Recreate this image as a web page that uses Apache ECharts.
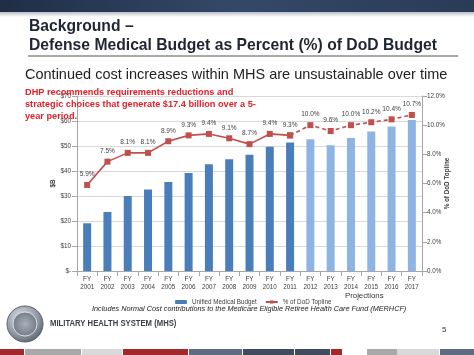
<!DOCTYPE html>
<html>
<head>
<meta charset="utf-8">
<script src="https://cdn.jsdelivr.net/npm/echarts@6/dist/echarts.min.js"></script>
<style>
html,body{margin:0;padding:0;background:#fff;}
#c{width:474px;height:355px;}
</style>
</head>
<body>
<div id="c"></div>
<script>
const categories = ['2001','2002','2003','2004','2005','2006','2007','2008','2009','2010','2011','2012','2013','2014','2015','2016','2017'];
const budget = [19.1, 23.6, 30.0, 32.6, 35.6, 39.2, 42.7, 44.7, 46.5, 49.7, 51.4, 52.7, 50.3, 53.2, 55.8, 57.8, 60.4];
const pctTopline = [5.9, 7.5, 8.1, 8.1, 8.9, 9.3, 9.4, 9.1, 8.7, 9.4, 9.3, 10.0, 9.6, 10.0, 10.2, 10.4, 10.7];
const lastActualIndex = 10; // FY2011
const leftTicks = [0, 10, 20, 30, 40, 50, 60, 70];
const rightTicks = [0, 2, 4, 6, 8, 10, 12];

const chart = echarts.init(document.getElementById('c'), null, {renderer: 'canvas'});
const FONT = 'Liberation Sans, Arial, sans-serif';
const darkBlue = '#4a7ebb', lightBlue = '#8db4e2', red = '#c0504d';
const SMALL = 6.3;

const barData = budget.map((v, i) => ({value: v, itemStyle: {color: i > lastActualIndex ? lightBlue : darkBlue}}));
const solidLine = pctTopline.map((v, i) => i <= lastActualIndex ? v : null);
const dashLine = pctTopline.map((v, i) => i >= lastActualIndex ? v : null);

const stripSegs = [[0,24,'#a3282c'],[25,56,'#a9a9a9'],[82,40,'#d9d9d9'],[123,65,'#a3282c'],[189,53,'#5e6c82'],[243,51,'#404c5e'],[295,35,'#404c5e'],[331,11,'#a3282c'],[343,24,'#ffffff'],[367,30,'#a9a9a9'],[397,42,'#d9d9d9'],[440,34,'#5e6c82']];

const graphics = [
  {type:'rect', shape:{x:0,y:0,width:474,height:12}, style:{fill:new echarts.graphic.LinearGradient(0,0,1,0,[{offset:0,color:'#1f2e45'},{offset:0.5,color:'#34486a'},{offset:1,color:'#2a3b57'}])}, z:1},
  {type:'rect', shape:{x:0,y:12,width:474,height:5}, style:{fill:new echarts.graphic.LinearGradient(0,0,0,1,[{offset:0,color:'#b9bec6'},{offset:1,color:'#ffffff'}])}, z:1},
  {type:'text', left:29, top:19, style:{text:'Background –', font:'bold 15.7px '+FONT, fill:'#1e2533'}, z:5},
  {type:'text', left:29, top:38, style:{text:'Defense Medical Budget as Percent (%) of DoD Budget', font:'bold 15.7px '+FONT, fill:'#1e2533'}, z:5},
  {type:'rect', shape:{x:28,y:55.5,width:430,height:1}, style:{fill:'#555'}, z:5},
  {type:'text', left:25, top:67, style:{text:'Continued cost increases within MHS are unsustainable over time', font:'14.5px '+FONT, fill:'#222'}, z:5},
  {type:'text', left:25, top:87, style:{text:'DHP recommends requirements reductions and\nstrategic choices that generate $17.4 billion over a 5-\nyear period.', font:'bold 9.2px '+FONT, fill:'#e3202a', lineHeight:11.8}, z:20},
  {type:'text', left:345, top:292, style:{text:'Projections', font:'7.8px '+FONT, fill:'#333'}, z:5},
  {type:'text', left:92, top:305, style:{text:'Includes Normal Cost contributions to the Medicare Eligible Retiree Health Care Fund (MERHCF)', font:'italic 7.3px '+FONT, fill:'#222'}, z:5},
  {type:'circle', shape:{cx:25,cy:324,r:18}, style:{fill:new echarts.graphic.RadialGradient(0.4,0.35,0.8,[{offset:0,color:'#e4e8ee'},{offset:0.6,color:'#8a929e'},{offset:1,color:'#3d4552'}]), stroke:'#5b6370', lineWidth:1}, z:5},
  {type:'circle', shape:{cx:25,cy:324,r:12}, style:{fill:new echarts.graphic.RadialGradient(0.5,0.5,0.7,[{offset:0,color:'#a9b0ba'},{offset:1,color:'#5c6572'}]), stroke:'#d8dce2', lineWidth:1}, z:6},
  {type:'text', x:50, y:318, scaleX:0.81, style:{text:'MILITARY HEALTH SYSTEM (MHS)', font:'bold 9.5px '+FONT, fill:'#3a3f48'}, z:5},
  {type:'text', left:442, top:326, style:{text:'5', font:'8px '+FONT, fill:'#333'}, z:5}
];
stripSegs.forEach(s => graphics.push({type:'rect', shape:{x:s[0],y:349,width:s[1],height:6}, style:{fill:s[2]}, z:2}));

const labelCommon = {show:true, position:'top', distance:4, fontSize:6.5, color:'#404040', fontFamily:FONT, formatter: p => p.value == null ? '' : p.value.toFixed(1) + '%'};

chart.setOption({
  animation:false,
  backgroundColor:'#fff',
  grid:{left:77, right:52, top:96, bottom:84, containLabel:false},
  legend:{
    data:['Unified Medical Budget','% of DoD Topline'],
    left:170, top:294, itemWidth:12, itemHeight:4, itemGap:8,
    textStyle:{fontSize:SMALL, color:'#404040', fontFamily:FONT}
  },
  xAxis:{
    type:'category', data:categories,
    axisLine:{lineStyle:{color:'#a6a6a6'}},
    axisTick:{show:true, alignWithLabel:false, lineStyle:{color:'#a6a6a6'}},
    axisLabel:{formatter: v => 'FY\n' + v, fontSize:SMALL, color:'#404040', fontFamily:FONT, lineHeight:8.5, margin:4, interval:0}
  },
  yAxis:[
    {type:'value', min:0, max:70, interval:10, name:'$B', nameLocation:'middle', nameGap:21, nameRotate:90, nameMoveOverlap:false,
     nameTextStyle:{fontSize:SMALL, color:'#404040', fontWeight:'bold', fontFamily:FONT},
     axisLine:{show:true, lineStyle:{color:'#a6a6a6'}}, axisTick:{show:true, lineStyle:{color:'#a6a6a6'}},
     axisLabel:{formatter: v => leftTicks.includes(v) ? (v === 0 ? '$-' : '$' + v) : '', fontSize:SMALL, color:'#404040', fontFamily:FONT, margin:6},
     splitLine:{lineStyle:{color:'#d9d9d9'}}},
    {type:'value', min:0, max:12, interval:2, position:'right', name:'% of DoD Topline', nameLocation:'middle', nameGap:22, nameRotate:90, nameMoveOverlap:false,
     nameTextStyle:{fontSize:SMALL, color:'#404040', fontWeight:'bold', fontFamily:FONT},
     axisLine:{show:true, lineStyle:{color:'#a6a6a6'}}, axisTick:{show:true, lineStyle:{color:'#a6a6a6'}},
     axisLabel:{formatter: v => rightTicks.includes(v) ? v.toFixed(1) + '%' : '', fontSize:SMALL, color:'#404040', fontFamily:FONT, margin:5},
     splitLine:{show:false}}
  ],
  series:[
    {name:'Unified Medical Budget', type:'bar', data:barData, barWidth:8, itemStyle:{color:darkBlue}, yAxisIndex:0, z:2},
    {name:'% of DoD Topline', type:'line', yAxisIndex:1, data:solidLine, symbol:'rect', symbolSize:6,
     lineStyle:{color:red, width:1.6}, itemStyle:{color:red}, label:labelCommon, z:5},
    {name:'% of DoD Topline', type:'line', yAxisIndex:1, data:dashLine, symbol:'rect', symbolSize:6,
     lineStyle:{color:red, width:1.6, type:[4,3]}, itemStyle:{color:red},
     label:Object.assign({}, labelCommon, {formatter: p => (p.value == null || p.dataIndex <= lastActualIndex) ? '' : p.value.toFixed(1) + '%'}), z:4}
  ],
  graphic: graphics
});
</script>
</body>
</html>
